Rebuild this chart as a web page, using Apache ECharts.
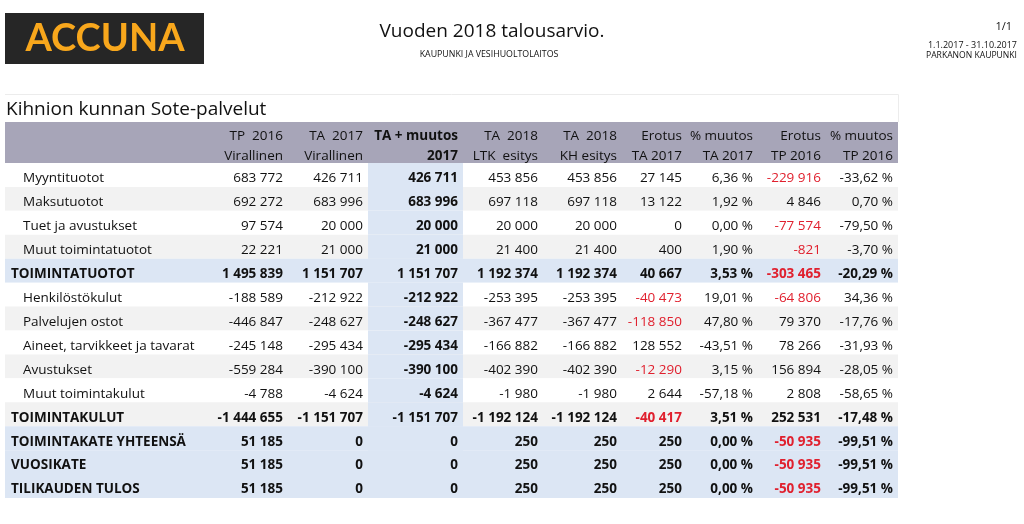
<!DOCTYPE html>
<html><head><meta charset="utf-8">
<script src="https://cdn.jsdelivr.net/npm/echarts@6/dist/echarts.min.js"></script>
<style>html,body{margin:0;padding:0;background:#fff}#c{width:1024px;height:524px}</style>
</head><body><div id="c"></div>
<script>
// ---------- DATA ----------
const rowLabels = ['Myyntituotot','Maksutuotot','Tuet ja avustukset','Muut toimintatuotot','TOIMINTATUOTOT',
  'Henkilöstökulut','Palvelujen ostot','Aineet, tarvikkeet ja tavarat','Avustukset','Muut toimintakulut',
  'TOIMINTAKULUT','TOIMINTAKATE YHTEENSÄ','VUOSIKATE','TILIKAUDEN TULOS'];
const rowIsTotal = [false,false,false,false,true,false,false,false,false,false,true,true,true,true];
const headLine1 = ['TP  2016','TA  2017','TA + muutos','TA  2018','TA  2018','Erotus','% muutos','Erotus','% muutos'];
const headLine2 = ['Virallinen','Virallinen','2017','LTK  esitys','KH esitys','TA 2017','TA 2017','TP 2016','TP 2016'];
const tp2016      = [683772,692272,97574,22221,1495839,-188589,-446847,-245148,-559284,-4788,-1444655,51185,51185,51185];
const ta2017      = [426711,683996,20000,21000,1151707,-212922,-248627,-295434,-390100,-4624,-1151707,0,0,0];
const taMuutos2017= [426711,683996,20000,21000,1151707,-212922,-248627,-295434,-390100,-4624,-1151707,0,0,0];
const ta2018Ltk   = [453856,697118,20000,21400,1192374,-253395,-367477,-166882,-402390,-1980,-1192124,250,250,250];
const ta2018Kh    = [453856,697118,20000,21400,1192374,-253395,-367477,-166882,-402390,-1980,-1192124,250,250,250];
const erotusTa2017= [27145,13122,0,400,40667,-40473,-118850,128552,-12290,2644,-40417,250,250,250];
const pctTa2017   = [6.36,1.92,0.00,1.90,3.53,19.01,47.80,-43.51,3.15,-57.18,3.51,0.00,0.00,0.00];
const erotusTp2016= [-229916,4846,-77574,-821,-303465,-64806,79370,78266,156894,2808,252531,-50935,-50935,-50935];
const pctTp2016   = [-33.62,0.70,-79.50,-3.70,-20.29,34.36,-17.76,-31.93,-28.05,-58.65,-17.48,-99.51,-99.51,-99.51];

// ---------- LAYOUT / STYLE ----------
const columns = [tp2016, ta2017, taMuutos2017, ta2018Ltk, ta2018Kh, erotusTa2017, pctTa2017, erotusTp2016, pctTp2016];
const colIsPct = [false,false,false,false,false,false,true,false,true];
const colRedNeg = [false,false,false,false,false,true,false,true,false];
const colBold = [false,false,true,false,false,false,false,false,false];
// row shading: 'w' white, 'g' light gray, 'b' light blue
const rowShade = ['w','g','w','g','b','w','g','w','g','w','g','b','b','b'];
const COL_EDGES = [0,203,283,363,458,538,617,682,753,821,893]; // table layout units (px within grid)
const TABLE_W = 893;
const PAD = 5;
const FONT = '"Open Sans", "Noto Sans", sans-serif';
const FS = 13.5;
const C_HEAD = '#a7a5b8', C_BLUE = '#dce6f4', C_GRAY = '#f2f2f2', C_RED = '#e0202e', C_TXT = '#111111';
const SHADE = {w: '#ffffff', g: C_GRAY, b: C_BLUE};

function fmtNum(v){
  const s = Math.abs(Math.round(v)).toString().replace(/\B(?=(\d{3})+(?!\d))/g, ' ');
  return (v < 0 ? '-' : '') + s;
}
function fmtPct(v){ return v.toFixed(2).replace('.', ',') + ' %'; }

const cellData = [];
columns.forEach((col, c) => col.forEach((v, r) => cellData.push([c, r, v])));
const rowData = rowLabels.map((l, r) => [0, r]);
const headData = [];
headLine1.forEach((t, c) => { headData.push([c, 0]); headData.push([c, 1]); });

const chart = echarts.init(document.getElementById('c'), null, {renderer: 'canvas'});
const TDY = 3.5;

function renderRow(params, api){
  const r = api.value(1);
  const p0 = api.coord([0, r]);
  const p1 = api.coord([TABLE_W, r]);
  const h = api.size([0, 1])[1];
  const hx0 = api.coord([COL_EDGES[3], r])[0];
  const hx1 = api.coord([COL_EDGES[4], r])[0];
  const total = rowIsTotal[r];
  const indent = total ? 6 : 18;
  const lp = api.coord([indent, r]);
  return {type: 'group', children: [
    {type: 'rect', shape: {x: p0[0], y: p0[1] - h/2, width: p1[0]-p0[0], height: h}, style: {fill: SHADE[rowShade[r]]}},
    {type: 'rect', shape: {x: hx0, y: p0[1] - h/2, width: hx1-hx0, height: h}, style: {fill: C_BLUE}},
    {type: 'text', x: lp[0], y: lp[1] + TDY, style: {text: rowLabels[r], align: 'left', verticalAlign: 'middle',
      fill: C_TXT, fontFamily: FONT, fontSize: FS, fontWeight: total ? 'bold' : 'normal'}}
  ]};
}

function renderCell(params, api){
  const c = api.value(0), r = api.value(1), v = api.value(2);
  const p = api.coord([COL_EDGES[c+2] - PAD, r]);
  const bold = rowIsTotal[r] || colBold[c];
  const red = colRedNeg[c] && v < 0;
  return {type: 'text', x: p[0], y: p[1] + TDY, style: {
    text: colIsPct[c] ? fmtPct(v) : fmtNum(v), align: 'right', verticalAlign: 'middle',
    fill: red ? C_RED : C_TXT, fontFamily: FONT, fontSize: FS, fontWeight: bold ? 'bold' : 'normal'}};
}

function renderHead(params, api){
  const c = api.value(0), line = api.value(1);
  const p = api.coord([COL_EDGES[c+2] - PAD, line]);
  const children = [];
  if (c === 0 && line === 0) {
    const a = api.coord([0, 0]), b = api.coord([TABLE_W, 1]);
    const h = api.size([0, 1])[1];
    children.push({type: 'rect', z2: -1, shape: {x: a[0], y: a[1] - h/2, width: b[0]-a[0], height: 2*h}, style: {fill: C_HEAD}});
  }
  children.push({type: 'text', x: p[0], y: p[1] + (line === 0 ? 4 : 3), style: {
    text: line === 0 ? headLine1[c] : headLine2[c], align: 'right', verticalAlign: 'middle',
    fill: C_TXT, fontFamily: FONT, fontSize: FS, fontWeight: colBold[c] ? 'bold' : 'normal'}});
  return {type: 'group', children};
}

chart.setOption({
  animation: false,
  grid: [
    {left: 5, right: 126, top: 163, bottom: 26},
    {left: 5, right: 126, top: 122, height: 41}
  ],
  xAxis: [
    {type: 'value', gridIndex: 0, min: 0, max: TABLE_W, show: false},
    {type: 'value', gridIndex: 1, min: 0, max: TABLE_W, show: false}
  ],
  yAxis: [
    {type: 'category', gridIndex: 0, data: rowLabels, inverse: true, show: false},
    {type: 'category', gridIndex: 1, data: ['h1','h2'], inverse: true, show: false}
  ],
  graphic: [
    {type: 'rect', left: 5, top: 13, shape: {width: 199, height: 51}, style: {fill: '#262626'}},
    {type: 'text', x: 105, y: 39, style: {text: 'ACCUNA', align: 'center', verticalAlign: 'middle',
      fill: '#f8a71c', font: 'bold 38px Lato, "Open Sans", sans-serif'}},
    {type: 'text', x: 492, y: 32, style: {text: 'Vuoden 2018 talousarvio.', align: 'center', verticalAlign: 'middle',
      fill: '#111', fontFamily: FONT, fontSize: 19}},
    {type: 'text', x: 489, y: 54, style: {text: 'KAUPUNKI JA VESIHUOLTOLAITOS', align: 'center', verticalAlign: 'middle',
      fill: '#111', fontFamily: FONT, fontSize: 8.8}},
    {type: 'text', x: 1012, y: 27, style: {text: '1/1', align: 'right', verticalAlign: 'middle',
      fill: '#111', fontFamily: FONT, fontSize: 11}},
    {type: 'text', x: 1017, y: 45, style: {text: '1.1.2017 - 31.10.2017', align: 'right', verticalAlign: 'middle',
      fill: '#111', fontFamily: FONT, fontSize: 9}},
    {type: 'text', x: 1017, y: 56, style: {text: 'PARKANON KAUPUNKI', align: 'right', verticalAlign: 'middle',
      fill: '#111', fontFamily: FONT, fontSize: 8.6}},
    {type: 'polyline', shape: {points: [[5, 94.5], [898.5, 94.5], [898.5, 122]]}, style: {stroke: '#ececec', lineWidth: 1, fill: null}},
    {type: 'text', x: 6, y: 110, style: {text: 'Kihnion kunnan Sote-palvelut', align: 'left', verticalAlign: 'middle',
      fill: '#111', fontFamily: FONT, fontSize: 19}}
  ],
  series: [
    {type: 'custom', xAxisIndex: 0, yAxisIndex: 0, data: rowData, renderItem: renderRow, clip: false, silent: true, z: 1},
    {type: 'custom', xAxisIndex: 0, yAxisIndex: 0, data: cellData, renderItem: renderCell, clip: false, silent: true, z: 2},
    {type: 'custom', xAxisIndex: 1, yAxisIndex: 1, data: headData, renderItem: renderHead, clip: false, silent: true, z: 2}
  ]
});
</script></body></html>
